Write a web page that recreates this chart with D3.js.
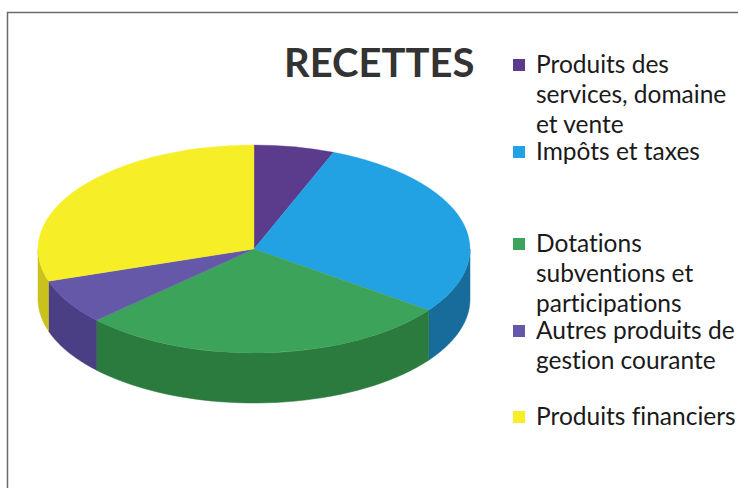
<!DOCTYPE html>
<html>
<head>
<meta charset="utf-8">
<script src="https://cdn.jsdelivr.net/npm/d3@7"></script>
<style>
  body { margin: 0; background: #fff; }
  text { font-variant-ligatures: none; font-feature-settings: "liga" 0; }
  .legend text { font-family: Lato, "Open Sans", sans-serif; font-size: 24.5px; fill: #1a1a1a; }
  .title { font-family: Lato, "Open Sans", sans-serif; font-weight: bold; font-size: 40px; fill: #333; }
</style>
</head>
<body>
<div id="chart"></div>
<script>
var categories = ["Produits des services, domaine et vente", "Impôts et taxes",
  "Dotations subventions et participations", "Autres produits de gestion courante",
  "Produits financiers"];
var legendLines = [["Produits des", "services, domaine", "et vente"], ["Impôts et taxes"],
  ["Dotations", "subventions et", "participations"], ["Autres produits de", "gestion courante"],
  ["Produits financiers"]];
var values = [6, 29, 28, 7, 30];
var topColors = ["#5a3b8c", "#22a2e2", "#3ca35a", "#6558a8", "#f6ef28"];
var sideColors = ["#42296a", "#176c9c", "#2b7a3e", "#4a3f84", "#c9c21c"];

var width = 738, height = 488;

var svg = d3.select("#chart").append("svg")
  .attr("width", width)
  .attr("height", height);

// frame
svg.append("path")
  .attr("d", "M7.5," + height + "V12.5H" + width)
  .attr("fill", "none")
  .attr("stroke", "#6a6a6a")
  .attr("stroke-width", 1.5);

svg.append("text")
  .attr("class", "title")
  .attr("x", 284)
  .attr("y", 77)
  .text("RECETTES");

// 3D pie
var cx = 254, cy = 249, rx = 216, ry = 104, depth = 50;

var color = d3.scaleOrdinal().domain(categories).range(topColors);
var side = d3.scaleOrdinal().domain(categories).range(sideColors);

var pie = d3.pie().sort(null).value(function(d){ return d.value; });
var arcs = pie(categories.map(function(c, i){ return { name: c, value: values[i] }; }));

function pt(a, dy){
  return [cx + rx * Math.sin(a), cy - ry * Math.cos(a) + (dy || 0)];
}

var g = svg.append("g");

// outer walls (front half only)
arcs.forEach(function(d){
  var a0 = Math.max(d.startAngle, Math.PI / 2);
  var a1 = Math.min(d.endAngle, 3 * Math.PI / 2);
  if (a1 <= a0) return;
  var n = 40, topPts = [], botPts = [];
  for (var k = 0; k <= n; k++) {
    var a = a0 + (a1 - a0) * k / n;
    topPts.push(pt(a));
    botPts.push(pt(a, depth));
  }
  var pts = topPts.concat(botPts.reverse());
  g.append("path")
    .attr("d", d3.line()(pts) + "Z")
    .attr("fill", side(d.data.name))
    .attr("stroke", side(d.data.name))
    .attr("stroke-width", 0.5);
});

// top faces: circular arc squashed into an ellipse
var arc = d3.arc().innerRadius(0).outerRadius(rx);
g.append("g")
  .attr("transform", "translate(" + cx + "," + cy + ") scale(1," + (ry / rx) + ")")
  .selectAll("path")
  .data(arcs)
  .enter().append("path")
  .attr("d", arc)
  .attr("fill", function(d){ return color(d.data.name); })
  .attr("stroke", function(d){ return color(d.data.name); })
  .attr("stroke-width", 0.5);

// legend
var legendY = [73, 160, 252, 339, 425];
var lineH = 30;

var legend = svg.append("g").attr("class", "legend")
  .selectAll("g")
  .data(categories)
  .enter().append("g");

legend.append("rect")
  .attr("x", 513)
  .attr("y", function(d, i){ return legendY[i] - 14; })
  .attr("width", 12)
  .attr("height", 12)
  .attr("fill", function(d){ return color(d); });

legend.each(function(d, i){
  var t = d3.select(this).append("text")
    .attr("x", 536)
    .attr("y", legendY[i]);
  legendLines[i].forEach(function(line, j){
    t.append("tspan")
      .attr("x", 536)
      .attr("y", legendY[i] + j * lineH)
      .text(line);
  });
});
</script>
</body>
</html>
